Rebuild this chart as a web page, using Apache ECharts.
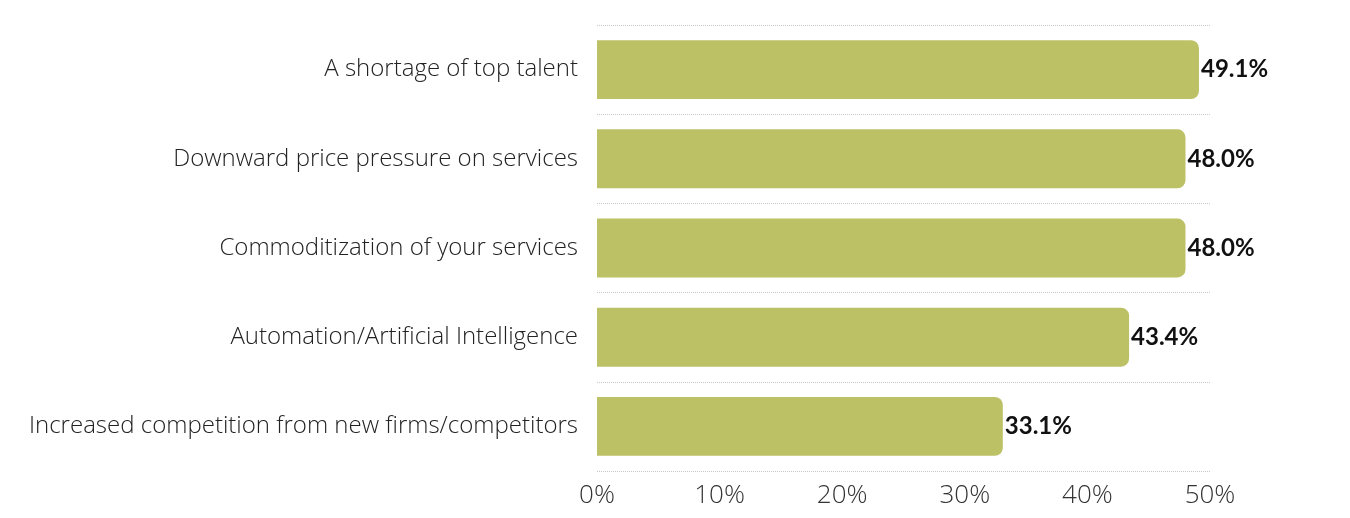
<!DOCTYPE html>
<html><head><meta charset="utf-8">
<script src="https://cdn.jsdelivr.net/npm/echarts@6/dist/echarts.min.js"></script>
<style>html,body{margin:0;padding:0;background:#fff}#c{width:1350px;height:518px}</style>
</head><body><div id="c"></div>
<script>
const categories = [
  "A shortage of top talent",
  "Downward price pressure on services",
  "Commoditization of your services",
  "Automation/Artificial Intelligence",
  "Increased competition from new firms/competitors"
];
const values = [49.1, 48.0, 48.0, 43.4, 33.1];
const xTicks = [0, 10, 20, 30, 40, 50];

const chart = echarts.init(document.getElementById('c'));
chart.setOption({
  animation: false,
  grid: { left: 597, right: 140, top: 25, bottom: 47, containLabel: false },
  xAxis: {
    type: 'value', min: xTicks[0], max: xTicks[xTicks.length - 1], interval: 10,
    axisLine: { show: false }, axisTick: { show: false }, splitLine: { show: false },
    axisLabel: { formatter: v => v + '%', color: '#333', fontSize: 26, fontWeight: 300, fontFamily: 'Open Sans', margin: 12 }
  },
  yAxis: {
    type: 'category', data: categories, inverse: true,
    axisLine: { show: false }, axisTick: { show: false },
    splitLine: { show: true, interval: 0, lineStyle: { color: '#c8c8c8', type: [1, 1], width: 1 } },
    axisLabel: { color: '#222', fontSize: 24, fontWeight: 300, fontFamily: 'Open Sans', margin: 19 }
  },
  series: [{
    type: 'bar', data: values, barWidth: '66%',
    itemStyle: { color: '#bcc165', borderRadius: [0, 8, 8, 0] },
    label: { show: true, position: 'right', distance: 2, formatter: p => p.value.toFixed(1) + '%',
      color: '#111', fontWeight: 'bold', fontSize: 24, fontFamily: 'Lato' }
  }]
});
</script></body></html>
